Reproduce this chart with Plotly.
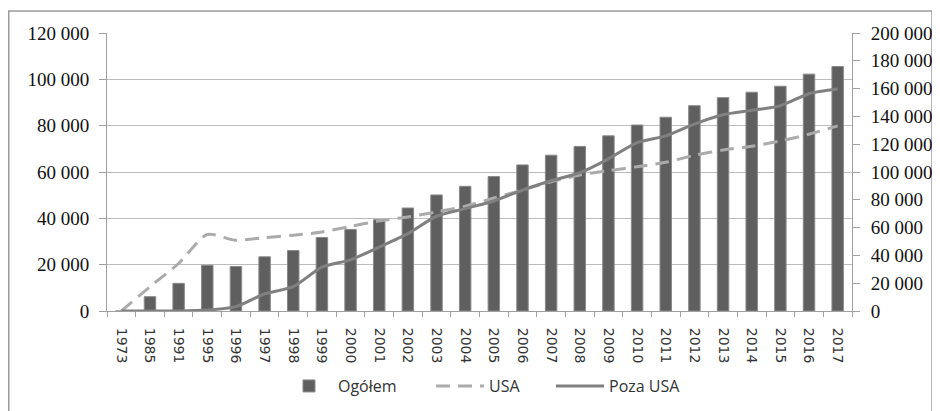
import plotly.graph_objects as go

years = ["1973", "1985", "1991", "1995", "1996", "1997", "1998", "1999", "2000",
         "2001", "2002", "2003", "2004", "2005", "2006", "2007", "2008", "2009",
         "2010", "2011", "2012", "2013", "2014", "2015", "2016", "2017"]

ogolem = [0, 10300, 19900, 32900, 32000, 39000, 43500, 52900, 58700,
          65700, 74100, 83500, 89700, 96700, 105100, 112100, 118400, 126000,
          133800, 139400, 147700, 153500, 157400, 161700, 170400, 175900]

usa = [0, 10500, 20500, 33000, 30500, 31700, 32700, 34100, 36500,
       38900, 40600, 42800, 45200, 48800, 52200, 55800, 58700, 60600,
       62300, 64200, 67200, 69500, 71100, 73400, 76300, 79900]

poza_usa = [0, 0, 0, 400, 1900, 7400, 10500, 18900, 22100,
            27600, 33400, 40900, 44200, 47500, 52200, 56200, 59700, 65700,
            72700, 75600, 80700, 84700, 86600, 88600, 93800, 95800]

left_ticks = [0, 20000, 40000, 60000, 80000, 100000, 120000]
right_ticks = list(range(0, 200001, 20000))

fig = go.Figure()

fig.add_trace(go.Bar(
    x=years, y=ogolem, name="Ogółem", yaxis="y", legend="legend",
    marker=dict(color="#5f5f5f", line=dict(color="#8a8a8a", width=1)),
))
fig.add_trace(go.Scatter(
    x=years, y=usa, name="USA", yaxis="y2", mode="lines", legend="legend2",
    line=dict(color="#ababab", width=3, dash="14px,8px", shape="spline", smoothing=0.7),
))
fig.add_trace(go.Scatter(
    x=years, y=poza_usa, name="Poza USA", yaxis="y2", mode="lines", legend="legend3",
    line=dict(color="#808080", width=3, shape="spline", smoothing=0.7),
))

serif = dict(family="Liberation Serif", size=19, color="#111111")
legend_common = dict(orientation="h", xanchor="left", y=-0.27, yanchor="middle",
                     font=dict(family="Open Sans", size=16, color="#333333"),
                     itemwidth=48, bgcolor="rgba(0,0,0,0)")

# The page body adds an 8px offset, so the figure is sized to the remaining viewport.
fig.update_layout(
    width=932, height=403,
    margin=dict(l=99, r=88, t=25, b=100, autoexpand=False),
    paper_bgcolor="white", plot_bgcolor="white",
    separators=", ",
    bargap=0.6,
    showlegend=True,
    legend=dict(x=0.2322, **legend_common),
    legend2=dict(x=0.4349, **legend_common),
    legend3=dict(x=0.5960, **legend_common),
    xaxis=dict(
        type="category", tickangle=90, tickson="boundaries",
        ticks="outside", ticklen=5, tickcolor="#a0a0a0",
        showline=True, linecolor="#a0a0a0", linewidth=1,
        showgrid=False, automargin=False,
        tickfont=dict(family="DejaVu Sans", size=14, color="#333333"),
        ticklabelstandoff=13,
    ),
    yaxis=dict(
        side="right", range=[0, 200000], tickvals=right_ticks,
        tickformat=",d", ticks="outside", ticklen=7, tickcolor="#a0a0a0",
        showline=True, linecolor="#a0a0a0", linewidth=1,
        showgrid=False, zeroline=False, automargin=False,
        tickfont=serif, ticklabelstandoff=7,
    ),
    yaxis2=dict(
        overlaying="y", side="left", range=[0, 120000], tickvals=left_ticks,
        tickformat=",d", ticks="outside", ticklen=7, tickcolor="#a0a0a0",
        showline=True, linecolor="#a0a0a0", linewidth=1,
        showgrid=True, gridcolor="#bcbcbc", gridwidth=1, zeroline=False,
        automargin=False,
        tickfont=serif, ticklabelstandoff=6,
    ),
    shapes=[dict(type="rect", xref="paper", yref="paper",
                 x0=-0.1319, x1=1.1074, y0=-0.40, y1=1.079,
                 line=dict(color="#9a9a9a", width=1.5), layer="below")],
)

fig.write_html("out.html")
